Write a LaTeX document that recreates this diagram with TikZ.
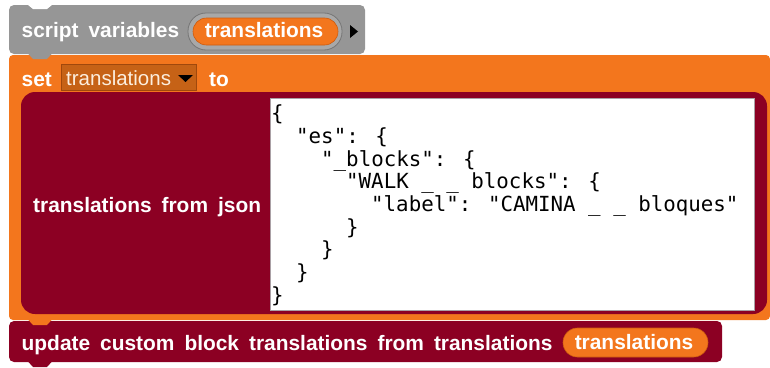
\documentclass[tikz,border=0pt]{standalone}
\usepackage{fontspec}
\setmainfont{Liberation Sans}
\newfontfamily\jsonfont{DejaVu Sans Mono}
\newcommand\snapwordgap{\spaceskip=10pt\relax}
\definecolor{snapgray}{RGB}{150,150,150}
\definecolor{snaporange}{RGB}{243,118,29}
\definecolor{snapmaroon}{RGB}{140,0,35}
\definecolor{ddfill}{RGB}{198,98,22}
\definecolor{dddraw}{RGB}{160,72,12}
\definecolor{ddtext}{RGB}{252,238,222}
\definecolor{rimfill}{RGB}{168,168,168}
\definecolor{rimdraw}{RGB}{118,118,118}
\definecolor{pillrim}{RGB}{205,92,15}
\definecolor{boxrim}{RGB}{170,160,165}
\tikzset{
  lbl/.style={text=white, inner sep=0pt, anchor=base west,
    font=\fontsize{20.9}{24}\selectfont\bfseries\snapwordgap},
  pilltext/.style={lbl, anchor=base},
  ddlbl/.style={text=ddtext, inner sep=0pt, anchor=base west,
    font=\fontsize{20.5}{24}\selectfont},
  jsonline/.style={text=black, inner sep=0pt, anchor=base west,
    font=\jsonfont\fontsize{20.8}{23}\selectfont},
}
\begin{document}
\begin{tikzpicture}[x=1pt,y=-1pt]
\useasboundingbox (0,0) rectangle (770,367);
% script variables block
\fill[snapgray, rounded corners=5pt] (9,5) rectangle (365,54);
\fill[white] (27.5,4.5) -- (33,9) -- (47,9) -- (52.5,4.5) -- cycle;
% set block (C-shaped, orange)
\fill[snaporange, rounded corners=4pt] (9,55) rectangle (770,320);
\fill[snapgray] (28,53.5) -- (33,59) -- (47,59) -- (52,53.5) -- cycle;
% script variables contents
\node[lbl] (sv) at (21.5,37) {script variables};
\draw[fill=rimfill, draw=rimdraw, line width=0.8pt, rounded corners=18pt] (188,13) rectangle (342,50);
\draw[fill=snaporange, draw=pillrim, line width=0.6pt, rounded corners=13.5pt] (193,18) rectangle (338,45);
\node[pilltext] (var1) at (264,37) {translations};
\fill[black] (350,25) -- (358,31.5) -- (350,38) -- cycle;
% set ... to
\node[lbl] (set) at (21.5,86) {set};
\draw[fill=ddfill, draw=dddraw, line width=0.8pt] (61,64) rectangle (196,90);
\node[ddlbl] (dd) at (66,85) {translations};
\fill[black] (178,75) -- (193,75) -- (185.5,82) -- cycle;
\node[lbl] (to) at (209,86) {to};
% reporter translations from json
\fill[snapmaroon, rounded corners=14pt] (21,92) rectangle (767,314);
\node[lbl] (tfj) at (33,212) {translations from json};
\draw[fill=white, draw=boxrim, line width=0.8pt] (270,98) rectangle (754,310);
\node[jsonline] (j0) at (271,120.7) {\{};
\node[jsonline] (j1) at (296,143.4) {"es": \{};
\node[jsonline] (j2) at (321,166.1) {"\_blocks": \{};
\node[jsonline] (j3) at (346,188.8) {"WALK \_ \_ blocks": \{};
\node[jsonline] (j4) at (371,211.5) {"label": "CAMINA \_ \_ bloques"};
\node[jsonline] (j5) at (346,234.2) {\}};
\node[jsonline] (j6) at (321,256.9) {\}};
\node[jsonline] (j7) at (296,279.6) {\}};
\node[jsonline] (j8) at (271,302.3) {\}};
% update block
\fill[snapmaroon, rounded corners=5pt] (9,321) rectangle (722,362);
\fill[snapmaroon] (28,361.5) -- (33,367) -- (47,367) -- (52,361.5) -- cycle;
\fill[snaporange] (28,319.5) -- (33,325) -- (47,325) -- (52,319.5) -- cycle;
\node[lbl] (upd) at (21.5,350) {update custom block translations from translations};
\draw[fill=snaporange, draw=pillrim, line width=0.6pt, rounded corners=14.5pt] (563,328) rectangle (708,357);
\node[pilltext] (var2) at (634,349) {translations};
\end{tikzpicture}
\end{document}
